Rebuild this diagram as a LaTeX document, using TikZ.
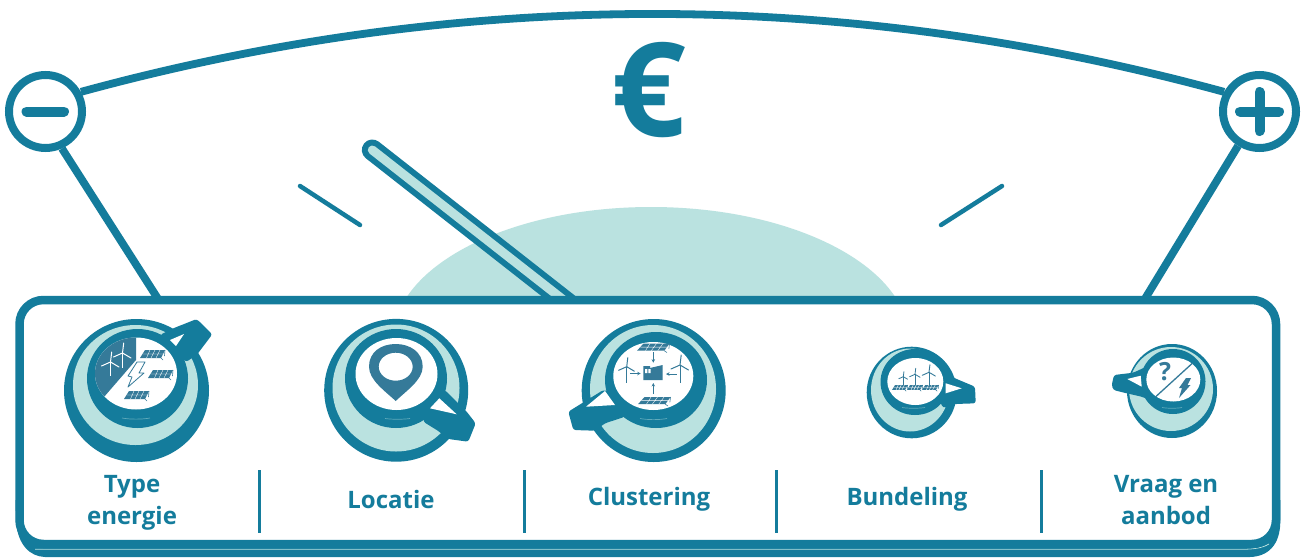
\documentclass[tikz,border=0pt]{standalone}
\usepackage{fontspec}
\usetikzlibrary{arrows.meta}
\setmainfont{Open Sans}
\definecolor{teal1}{HTML}{147C9C}
\definecolor{slate1}{HTML}{357A99}
\definecolor{pale1}{HTML}{BAE2E0}
\newcommand{\eli}[5]{\fill[#1] (#2,#3) ellipse [x radius=#4pt, y radius=#5pt];}
\newcommand{\turb}[6]{% hub x, hub y, base y, blade, colour, width
  \draw[#5,line width=#6pt] (#1,#2) -- (#1,#3);
  \draw[#5,line width=#6pt,line cap=round] (#1,#2) -- ++({0.12*#4},{-#4}) (#1,#2) -- ++({-0.9*#4},{0.4*#4}) (#1,#2) -- ++({0.85*#4},{0.5*#4});}
\newcommand{\solar}[4]{% left-bottom x, top y, x scale, y scale
  \begin{scope}[shift={(#1,#2)},xscale=#3,yscale=#4]
    \fill[slate1] (5,0) -- (25,0) -- (21,8) -- (0,8) -- cycle;
    \draw[white,line width=.35pt] (2.5,4) -- (23,4) (10,0) -- (6.5,8) (15,0) -- (11,8) (20,0) -- (16,8);
    \draw[slate1,line width=.6pt] (21,8) -- (23,10) (25,0) -- (24.5,6);
  \end{scope}}
\tikzset{
  tealline/.style={draw=teal1,line width=7.8pt},
  tick1/.style={teal1,line width=4.5pt,line cap=round},
  handlef/.style={fill=teal1,rounded corners=2.5pt},
  lbl/.style={text=teal1,font=\bfseries\fontsize{24}{32}\selectfont,align=center,inner sep=0pt},
  dial/.style={circle,draw=teal1,line width=8pt,fill=white,minimum size=73pt,inner sep=0pt},
  board/.style={rectangle,rounded corners=24pt,draw=teal1,line width=8.5pt,fill=white,minimum width=1256.5pt,minimum height=244pt,inner sep=0pt},
  divider/.style={teal1,line width=3pt},
  faint/.style={color=teal1!55!pale1,line width=.7pt}
}
\begin{document}
\begin{tikzpicture}[x=1pt,y=-1pt]
\useasboundingbox (0,0) rectangle (1305,557);
\fill[white] (0,0) rectangle (1305,557);
% teal dome
\begin{scope}
\clip (300,150) rectangle (1000,300);
\eli{pale1}{651}{340}{258}{133}
\end{scope}
% ticks
\draw[tick1] (300,186) -- (360,225);
\draw[tick1] (1002,186) -- (941,225);
% needle
\coordinate (needleTip) at (372.3,150);
\coordinate (needleFoot) at (575,309);
\draw[teal1,line width=21pt,line cap=round] (needleTip) -- (needleFoot);
\draw[pale1,line width=9pt,line cap=round] (needleTip) -- (needleFoot);
% dials
\node[dial] (minus) at (45.5,111.5) {};
\node[dial] (plus) at (1259.5,111.5) {};
\draw[teal1,line width=10pt,line cap=round] (26.5,111.5) -- (64,111.5);
\draw[teal1,line width=10pt,line cap=round] (1240,111.5) -- (1279,111.5) (1259.5,92) -- (1259.5,131);
% top arc
\draw[tealline] (minus.29) .. controls (462,-12) and (843,-12) .. (plus.151);
% legs
\coordinate (legL) at (160,302);
\coordinate (legR) at (1143,302);
\draw[tealline] (minus.-66) -- (legL);
\draw[tealline] (plus.-122) -- (legR);
% euro
\node[text=teal1,font=\bfseries\fontsize{131}{131}\selectfont,inner sep=0pt] (euro) at (648.5,90) {€};
% board
\fill[teal1] (15.5,500) -- (16,522) .. controls (18,545) and (30,556.5) .. (45,557) -- (1250,557) .. controls (1268,556.5) and (1280,545) .. (1280.3,522) -- (1280.3,500) -- cycle;
\draw[pale1,line width=.8pt] (35,549.3) -- (1240,549.3) .. controls (1254,549.3) and (1262,548) .. (1269,544);
\node[board] (panel) at (647.75,422) {};
% dividers
\draw[divider] (259,470) -- (259,533);
\draw[divider] (524,470) -- (524,533);
\draw[divider] (776,470) -- (776,533);
\draw[divider] (1041,470) -- (1041,533);
% labels
\node[lbl] (l1) at (132,503) {Type\\energie};
\node[lbl] (l2) at (391,499) {Locatie};
\node[lbl] (l3) at (649,499) {Clustering};
\node[lbl] (l4) at (907,499) {Bundeling};
\node[lbl] (l5) at (1166,500) {Vraag en\\aanbod};
% ---------- lens 1
\eli{teal1}{136.5}{390.5}{72.5}{71.5}
\eli{pale1}{135.5}{385}{62.5}{60}
\fill[handlef] (160,335) -- (173.3,328.3) -- (196.7,319) -- (212.3,334.3) -- (196.7,355) -- (186,362) -- (170,345) -- cycle;
\eli{teal1}{137.5}{378.5}{50.5}{49.5}
\eli{white}{136}{373.5}{41}{36}
\fill[white] (170,340) -- (184,334) -- (176,346) -- cycle;
\begin{scope}
\clip (136,373.5) ellipse [x radius=41pt, y radius=36pt];
\fill[slate1] (136,330) -- (136,360) -- (104,397) -- (90,397) -- (90,330) -- cycle;
\end{scope}
\turb{110.5}{362}{376}{10}{white}{1}
\turb{122.5}{353}{368}{10}{white}{1}
\solar{140}{350}{1}{1}
\solar{148}{370}{1}{1}
\solar{124}{391}{1}{1}
\draw[slate1,fill=white,line width=.8pt,line join=round] (137,362) -- (145,362) -- (139,373) -- (144,373) -- (128,387) -- (132,377) -- (128,376) -- cycle;
\draw[faint] (122,418) .. controls (130,419.5) and (142,419.5) .. (150,418);
% ---------- lens 2
\eli{teal1}{396.2}{390.3}{72}{71.4}
\eli{pale1}{396}{388}{63.5}{63.5}
\fill[handlef] (445,390) -- (466.7,411.7) -- (475.7,423.3) -- (468.3,441.7) -- (448.3,439) -- (438.3,431) -- (423.3,421.7) -- (426.7,400) -- cycle;
\eli{teal1}{396}{378.5}{51}{49.5}
\eli{white}{396.5}{374}{41}{36}
\fill[white] (430,408.3) -- (439.3,398.3) -- (456.7,414.3) -- cycle;
\fill[slate1,even odd rule] (395.7,401) .. controls (385,391) and (369,380) .. (369,366.7) .. controls (369,352) and (381,344) .. (395.7,344) .. controls (410,344) and (422.7,352) .. (422.7,366.7) .. controls (422.7,380) and (406,391) .. (395.7,401) -- cycle (395.7,366.7) ellipse [x radius=17pt, y radius=14pt];
\draw[faint] (385,418.5) .. controls (392,419.5) and (403,419.5) .. (410,418.5);
% ---------- lens 3
\eli{teal1}{653.7}{390.5}{72}{71.5}
\eli{pale1}{653}{389}{63}{64}
\fill[handlef] (568.3,411.7) -- (603.3,390) -- (620,395) -- (625,416.7) -- (605,423.3) -- (595,430.7) -- (573.3,430) -- cycle;
\eli{teal1}{656}{380}{51}{48}
\eli{white}{653.3}{376}{40}{34}
\fill[white] (586,406.7) -- (605,391) -- (615,405) -- cycle;
\solar{637}{343.5}{1.3}{.9}
\solar{638}{397}{1.3}{.9}
\turb{626.7}{366.7}{383}{9}{slate1}{1}
\turb{680}{365}{383}{10}{slate1}{1}
\fill[slate1] (643.3,380) -- (643.3,366) -- (650,366) -- (650,368) -- (662.7,365) -- (662.7,380) -- cycle;
\fill[white] (645,369) rectangle (647.3,373) (648.3,369) rectangle (650.6,373);
\draw[slate1,line width=.9pt,-{Stealth[length=3.5pt,width=3.5pt]}] (653.3,352) -- (653.3,362.7);
\draw[slate1,line width=.9pt,-{Stealth[length=3.5pt,width=3.5pt]}] (653.3,394) -- (653.3,383);
\draw[slate1,line width=.9pt,-{Stealth[length=3.5pt,width=3.5pt]}] (630,373.5) -- (640.7,373.5);
\draw[slate1,line width=.9pt,-{Stealth[length=3.5pt,width=3.5pt]}] (676.7,374) -- (666,374);
\draw[faint] (640,418.5) .. controls (648,420) and (659,420) .. (667,418.5);
% ---------- lens 4
\eli{teal1}{911.7}{392.5}{45}{45.8}
\eli{pale1}{910}{390}{39}{41.5}
\fill[handlef] (945,372) -- (955,378.3) -- (975,386.7) -- (975.7,403.3) -- (955,404) -- (943,408) -- (935,390) -- cycle;
\eli{teal1}{915}{382}{34.5}{33}
\eli{white}{915.3}{381.5}{28}{23.5}
\fill[white] (945.7,383.3) -- (961.7,388.3) -- (945.7,393.3) -- cycle;
\solar{892}{385}{.62}{.62}
\solar{907}{385}{.62}{.62}
\solar{922}{385}{.66}{.62}
\turb{903.3}{376.7}{385}{5}{slate1}{.8}
\turb{915}{374.3}{385}{6}{slate1}{.8}
\turb{929}{372.3}{385}{7.5}{slate1}{.9}
\draw[faint] (902,407.5) .. controls (908,408.5) and (919,408.5) .. (925,407.5);
% ---------- lens 5
\eli{teal1}{1172}{391}{45}{47}
\eli{pale1}{1171}{389}{42}{42}
\fill[handlef] (1111.7,385) -- (1114,375) -- (1133.3,372.7) -- (1150,365) -- (1150,400) -- (1141.7,396.7) -- (1126.7,393.3) -- (1113.3,390) -- cycle;
\eli{teal1}{1173}{381.5}{32.5}{32.5}
\eli{white}{1173.3}{379.5}{27}{22}
\fill[white] (1127.3,379) -- (1140.7,375.7) -- (1141.7,386.7) -- cycle;
\draw[slate1,line width=1.3pt] (1155.7,396.7) -- (1192.3,363.3);
\node[text=slate1,font=\bfseries\fontsize{25}{25}\selectfont,inner sep=0pt] (qm) at (1165,371.5) {?};
\fill[slate1] (1186,378) -- (1191,378) -- (1187.5,385) -- (1190.5,385) -- (1179,398) -- (1182,388) -- (1179,388) -- cycle;
\draw[faint] (1162,407.5) .. controls (1167,408.5) and (1177,408.5) .. (1182,407.5);
\end{tikzpicture}
\end{document}
